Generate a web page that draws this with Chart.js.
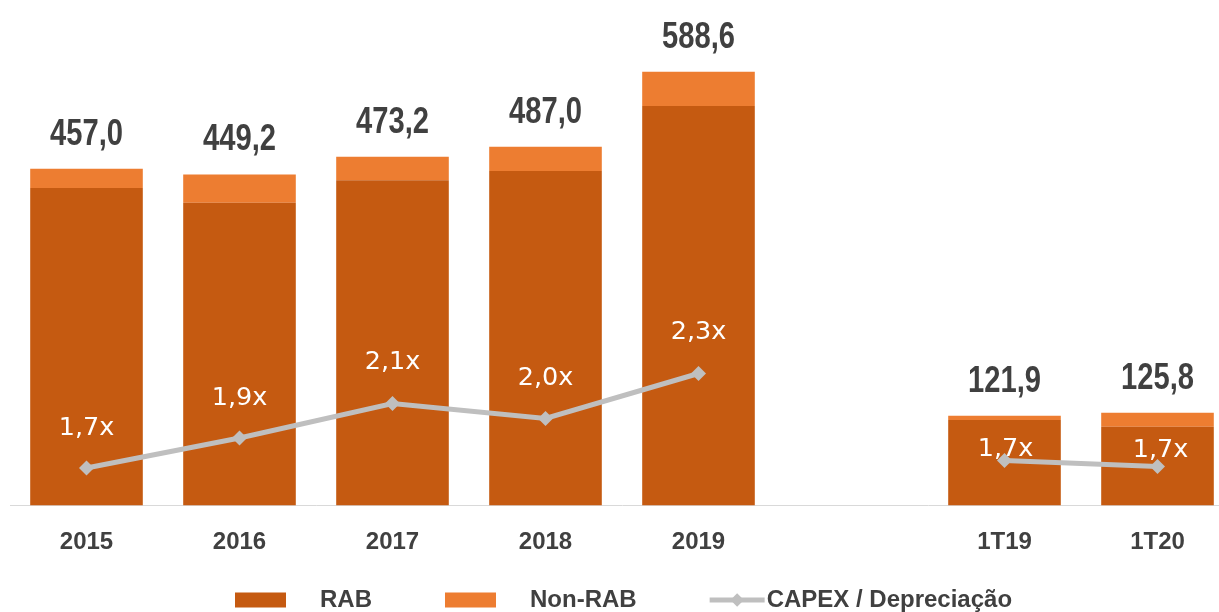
<!DOCTYPE html>
<html>
<head>
<meta charset="utf-8">
<script src="https://cdn.jsdelivr.net/npm/chart.js@4.4.1/dist/chart.umd.min.js"></script>
<style>
html,body{margin:0;padding:0;overflow:hidden;background:#ffffff;width:1219px;height:612px}
#wrap{width:1234px;height:612px;position:relative}
canvas{display:block}
</style>
</head>
<body>
<div id="wrap"><canvas id="c" width="1234" height="612" style="width:1234px;height:612px"></canvas></div>
<script>
// ---- data ----
const categories = ['2015', '2016', '2017', '2018', '2019', '', '1T19', '1T20'];
const rabValues = [430.8, 410.8, 441.4, 453.9, 542.1, null, 116.1, 106.8];
const nonRabValues = [26.2, 38.4, 31.8, 33.1, 46.5, null, 5.8, 19.0];
const totalValues = [457.0, 449.2, 473.2, 487.0, 588.6, null, 121.9, 125.8];
const capexDepreciation = [1.68, 1.88, 2.11, 2.01, 2.31, null, 1.73, 1.69];
const seriesNames = ['RAB', 'Non-RAB', 'CAPEX / Depreciação'];

const fmt = v => v.toFixed(1).replace('.', ',');

const valueLabels = {
  id: 'valueLabels',
  beforeDatasetDraw(chart, args, o) {
    if (args.index !== 2) return;
    const ctx = chart.ctx;
    const meta = chart.getDatasetMeta(2);
    ctx.save();
    ctx.font = o.lineFont;
    ctx.fillStyle = '#FFFFFF';
    ctx.textAlign = 'center';
    ctx.textBaseline = 'middle';
    capexDepreciation.forEach((v, i) => {
      if (v == null) return;
      const p = meta.data[i];
      ctx.fillText(fmt(v) + 'x', p.x + o.lineDx[i], p.y - o.lineDy[i]);
    });
    ctx.restore();
  },
  afterDatasetsDraw(chart, args, o) {
    const ctx = chart.ctx;
    const meta = chart.getDatasetMeta(1);
    ctx.save();
    ctx.font = o.totalFont;
    ctx.fillStyle = '#404040';
    ctx.textAlign = 'center';
    ctx.textBaseline = 'alphabetic';
    totalValues.forEach((t, i) => {
      if (t == null) return;
      const el = meta.data[i];
      ctx.save();
      ctx.translate(el.x, el.y - o.totalGap);
      ctx.scale(o.totalScaleX, 1);
      ctx.fillText(fmt(t), 0, 0);
      ctx.restore();
    });
    ctx.restore();
  }
};

const bottomLegend = {
  id: 'bottomLegend',
  afterDraw(chart, args, o) {
    const ctx = chart.ctx;
    ctx.save();
    ctx.font = o.font;
    ctx.textBaseline = 'middle';
    ctx.textAlign = 'left';
    let x = o.startX;
    const y = o.y;
    chart.data.datasets.forEach(ds => {
      if (ds.type === 'line') {
        ctx.strokeStyle = ds.borderColor;
        ctx.lineWidth = o.lineWidth;
        ctx.beginPath();
        ctx.moveTo(x, y);
        ctx.lineTo(x + o.lineLen, y);
        ctx.stroke();
        const cx = x + o.lineLen / 2, r = o.markerRadius;
        ctx.fillStyle = ds.pointBackgroundColor;
        ctx.beginPath();
        ctx.moveTo(cx, y - r); ctx.lineTo(cx + r, y); ctx.lineTo(cx, y + r); ctx.lineTo(cx - r, y);
        ctx.closePath();
        ctx.fill();
        x += o.lineLen + o.lineGap;
      } else {
        ctx.fillStyle = ds.backgroundColor;
        ctx.fillRect(x, y - o.boxH / 2, o.boxW, o.boxH);
        x += o.boxW + o.boxGap;
      }
      ctx.fillStyle = '#404040';
      ctx.fillText(ds.label, x, y + o.textDy);
      x += ctx.measureText(ds.label).width + o.itemGap;
    });
    ctx.restore();
  }
};

new Chart(document.getElementById('c'), {
  data: {
    labels: categories,
    datasets: [
      { type: 'bar', label: seriesNames[0], data: rabValues, backgroundColor: '#C55A11', yAxisID: 'y', order: 1, stack: 's' },
      { type: 'bar', label: seriesNames[1], data: nonRabValues, backgroundColor: '#ED7D31', yAxisID: 'y', order: 1, stack: 's' },
      { type: 'line', label: seriesNames[2], data: capexDepreciation, yAxisID: 'y2', order: 0,
        borderColor: '#BFBFBF', borderWidth: 5, pointStyle: 'rectRot', pointRadius: 7.5,
        pointBackgroundColor: '#BFBFBF', pointBorderWidth: 0, spanGaps: false, tension: 0 }
    ]
  },
  options: {
    responsive: false,
    animation: false,
    devicePixelRatio: 1,
    layout: { autoPadding: false, padding: { left: 10, right: 0, top: 0, bottom: 33.7 } },
    datasets: { bar: { barPercentage: 0.736, categoryPercentage: 1.0 } },
    scales: {
      x: {
        stacked: true,
        grid: { display: true, drawOnChartArea: false, drawTicks: false },
        border: { display: true, color: '#D9D9D9', width: 1 },
        ticks: { color: '#404040', padding: 22, maxRotation: 0, autoSkip: false,
                 font: { family: '"Liberation Sans", Arial, sans-serif', size: 24, weight: 'bold' } }
      },
      y: { stacked: true, display: false, min: 0, max: 686 },
      y2: { display: false, min: 1.43, max: 4.8, position: 'right' }
    },
    plugins: {
      legend: { display: false },
      tooltip: { enabled: false },
      valueLabels: {
        totalFont: 'bold 36px "Liberation Sans", Arial, sans-serif',
        totalScaleX: 0.81,
        totalGap: 24,
        lineFont: '25.5px "DejaVu Sans", Verdana, sans-serif',
        lineDx: [0, 0, 0, 0, 0, 0, 1, 3],
        lineDy: [40, 40, 41, 40, 41, 0, 11, 16]
      },
      bottomLegend: {
        font: 'bold 24px "Liberation Sans", Arial, sans-serif',
        startX: 235, y: 600, textDy: 0,
        boxW: 51, boxH: 15, boxGap: 34, itemGap: 73,
        lineLen: 55, lineGap: 2, lineWidth: 5, markerRadius: 6.7
      }
    }
  },
  plugins: [valueLabels, bottomLegend]
});
</script>
</body>
</html>
